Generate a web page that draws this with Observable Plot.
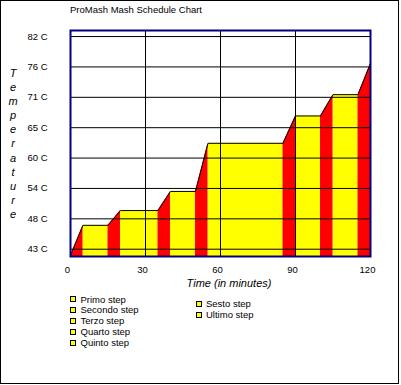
<!DOCTYPE html>
<html><head><meta charset="utf-8">
<script src="https://cdn.jsdelivr.net/npm/d3@7"></script>
<script src="https://cdn.jsdelivr.net/npm/@observablehq/plot@0.6"></script>
<style>
body{margin:0;background:#fff;}
#wrap{position:relative;width:401px;height:385px;font-family:"Liberation Sans",Arial,sans-serif;color:#000;overflow:hidden;background:#fff}
#border{position:absolute;left:0;top:0;width:397px;height:382px;border:1px solid #000;}
#chart{position:absolute;left:0;top:0;}
#title{position:absolute;left:70px;top:4px;font-size:9.5px;line-height:12px;white-space:nowrap}
#xtitle{position:absolute;left:129px;width:200px;top:276px;font-size:11px;line-height:14px;font-style:italic;text-align:center;white-space:nowrap}
#ytitle{position:absolute;left:6px;width:14px;top:66px;font-size:11px;line-height:14.1px;font-style:italic;text-align:center}
#ytitle span{display:block;height:14.1px}
.li{position:absolute;font-size:9.5px;line-height:11px;white-space:nowrap}
.sw{position:absolute;width:4px;height:4px;border:1px solid #000;background:#ffff00}
</style></head>
<body>
<div id="wrap">
  <div id="chart"></div>
  <div id="title"></div>
  <div id="xtitle"></div>
  <div id="ytitle"></div>
  <div id="legend"></div>
  <div id="border"></div>
</div>
<script>
// ---- data ----
const chartTitle = "ProMash Mash Schedule Chart";
const xTitle = "Time (in minutes)";
const yTitle = "Temperature";
const stepNames = ["Primo step", "Secondo step", "Terzo step", "Quarto step", "Quinto step", "Sesto step", "Ultimo step"];
const startTemp = 42.2;                                   // °C at time 0
const stepTemps = [47.7, 50.4, 53.9, 62.7, 67.7, 71.6, 77.3]; // °C
const rampStart = [0, 15, 35, 50, 85, 100, 115];          // minutes
const rampEnd   = [5, 20, 40, 55, 90, 105, 120];
const restEnd   = [15, 35, 50, 85, 100, 115, 120];
const xTicks = [0, 30, 60, 90, 120];
const yTicksF = [110, 120, 130, 140, 150, 160, 170, 180]; // gridlines (°F), labelled in °C
const yDomain = [42, 83.33];

// ---- derived tables ----
const yTicks = yTicksF.map(f => (f - 32) * 5 / 9);
const ramps = [];
stepTemps.forEach((t, i) => {
  const prev = i === 0 ? startTemp : stepTemps[i - 1];
  ramps.push({z: i, t: rampStart[i], temp: prev});
  ramps.push({z: i, t: rampEnd[i], temp: t});
});
const rests = stepTemps.map((t, i) => ({x1: rampEnd[i], x2: restEnd[i], temp: t})).filter(d => d.x2 > d.x1);
const profile = [{t: 0, temp: startTemp}];
stepTemps.forEach((t, i) => {
  profile.push({t: rampEnd[i], temp: t});
  if (restEnd[i] > rampEnd[i]) profile.push({t: restEnd[i], temp: t});
});

const chart = Plot.plot({
  width: 401, height: 300,
  marginLeft: 70, marginRight: 31, marginTop: 30, marginBottom: 44,
  style: {fontFamily: '"Liberation Sans", Arial, sans-serif', fontSize: "9.5px", color: "#000", background: "transparent"},
  x: {domain: [0, 120]},
  y: {domain: yDomain},
  marks: [
    Plot.rect(rests, {x1: "x1", x2: "x2", y1: () => yDomain[0], y2: "temp", fill: "#ffff00"}),
    Plot.areaY(ramps, {x: "t", y1: () => yDomain[0], y2: "temp", z: "z", fill: "#ff0000"}),
    Plot.gridY(yTicks, {stroke: "#000", strokeOpacity: 1}),
    Plot.gridX(xTicks, {stroke: "#000", strokeOpacity: 1}),
    Plot.line(profile, {x: "t", y: "temp", stroke: "#000", strokeWidth: 1}),
    Plot.frame({stroke: "#000080", strokeWidth: 2}),
    Plot.axisY(yTicks, {tickSize: 0, tickPadding: 23, tickFormat: d => Math.floor(d + 1e-9) + " C", label: null}),
    Plot.axisX(xTicks, {tickSize: 0, tickPadding: 10, dx: -3, label: null})
  ]
});
document.getElementById("chart").appendChild(chart);

document.getElementById("title").textContent = chartTitle;
document.getElementById("xtitle").textContent = xTitle;
const yt = document.getElementById("ytitle");
for (const ch of yTitle) { const s = document.createElement("span"); s.textContent = ch; yt.appendChild(s); }

const legend = document.getElementById("legend");
stepNames.forEach((name, i) => {
  const col = i < 5 ? 0 : 1;
  const row = col === 0 ? i : i - 5;
  const cy = (col === 0 ? 299 : 303.7) + row * 10.9;
  const sx = col === 0 ? 70 : 195.5;
  const sw = document.createElement("div");
  sw.className = "sw"; sw.style.left = sx + "px"; sw.style.top = (cy - 3) + "px";
  legend.appendChild(sw);
  const lb = document.createElement("div");
  lb.className = "li"; lb.style.left = (sx + 10.5) + "px"; lb.style.top = (cy - 5.5) + "px";
  lb.textContent = name;
  legend.appendChild(lb);
});
</script>
</body></html>
